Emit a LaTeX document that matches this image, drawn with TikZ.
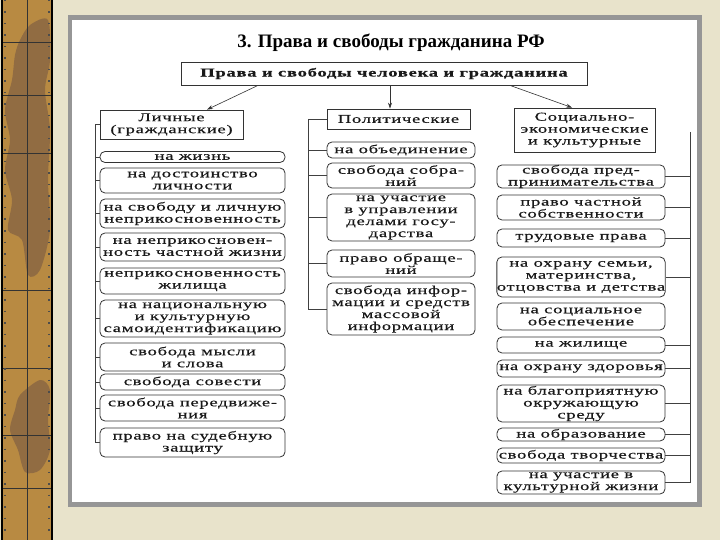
\documentclass[tikz,border=0pt]{standalone}
\usepackage{fontspec}
\setmainfont{Liberation Serif}
\newfontfamily\boxfont[FakeStretch=1.55,LetterSpace=6,FakeBold=0.4]{Liberation Serif}
\definecolor{Parchment}{RGB}{232, 227, 203}
\definecolor{StripBrown}{RGB}{184, 138, 66}
\definecolor{LeafBrown}{RGB}{120, 88, 66}
\definecolor{FrameGray}{RGB}{150, 150, 150}
\usetikzlibrary{arrows.meta, calc}

\begin{document}
\begin{tikzpicture}[x=1pt, y=-1pt,
    every node/.style={align=center, inner sep=0pt},
    boxtext/.style={font=\boxfont\fontsize{12}{12}\selectfont, text=black!90},
    headbox/.style={boxtext, draw=black!80, line width=0.8pt},
    itembox/.style={boxtext, draw=black!80, line width=0.8pt, rounded corners=5pt},
    lbox/.style={itembox, minimum width=185pt},
    mbox/.style={itembox, minimum width=148pt},
    rbox/.style={itembox, minimum width=168pt},
    spine/.style={draw=black!75, line width=0.7pt},
    arr/.style={-{Stealth[length=6pt, width=4pt]}, draw=black!80, line width=0.6pt}
]
\useasboundingbox (0,0) rectangle (720,540);
\fill[Parchment] (0,0) rectangle (720,540);

\fill[StripBrown] (2,0) rectangle (52,540);
\fill[LeafBrown, opacity=0.6] plot[smooth cycle] coordinates {(30,25) (48,20) (50,60) (45,90) (50,130) (48,180) (50,230) (40,270) (28,275) (22,240) (8,230) (12,200) (5,170) (10,140) (5,110) (12,80) (15,55) (20,40)};
\fill[LeafBrown, opacity=0.6] plot[smooth cycle] coordinates {(40,380) (50,390) (48,420) (50,450) (40,470) (25,472) (18,450) (10,430) (15,410) (20,395)};
\draw[black!80, line width=0.6pt] (27,0) -- (27,540);
\foreach \y in {42,95,153,290,368,435,488}
  \draw[black!80, line width=0.6pt] (2,\y) -- (52,\y);
\draw[black!70, line width=1.5pt, dash pattern=on 1.5pt off 10pt] (5,0) -- (5,540) (49,0) -- (49,540);
\draw[black, line width=2pt] (2,-1) rectangle (52,541);

\fill[FrameGray] (68,15) rectangle (702,507);
\fill[white] (72,20) rectangle (697,502);

\node[font=\bfseries\fontsize{19}{22}\selectfont] (title) at (391,43) {3. Права и свободы гражданина РФ};

\node[headbox, font=\boxfont\bfseries\fontsize{12}{12}\selectfont, minimum width=406pt, minimum height=23pt] (top) at (384,73.5) {Права и свободы человека и гражданина};

\node[headbox, minimum width=143pt, minimum height=29pt] (lhead) at (171.5,124.5) {Личные\\(гражданские)};
\node[lbox, minimum height=11pt] (l1) at (192.5,157) {на жизнь};
\node[lbox, minimum height=25pt] (l2) at (192.5,180.5) {на достоинство\\личности};
\node[lbox, minimum height=29pt] (l3) at (192.5,213.5) {на свободу и личную\\неприкосновенность};
\node[lbox, minimum height=28pt] (l4) at (192.5,247) {на неприкосновен-\\ность частной жизни};
\node[lbox, minimum height=26pt] (l5) at (192.5,281) {неприкосновенность\\жилища};
\node[lbox, minimum height=37pt] (l6) at (192.5,318.5) {на национальную\\и культурную\\самоидентификацию};
\node[lbox, minimum height=28pt] (l7) at (192.5,357) {свобода мысли\\и слова};
\node[lbox, minimum height=16pt] (l8) at (192.5,382) {свобода совести};
\node[lbox, minimum height=26pt] (l9) at (192.5,408) {свобода передвиже-\\ния};
\node[lbox, minimum height=29pt] (l10) at (192.5,442.5) {право на судебную\\защиту};

\node[headbox, minimum width=143pt, minimum height=20pt] (mhead) at (398.5,119) {Политические};
\node[mbox, minimum height=16pt] (m1) at (401,150) {на объединение};
\node[mbox, minimum height=25pt] (m2) at (401,175.5) {свобода собра-\\ний};
\node[mbox, minimum height=47pt] (m3) at (401,217.5) {на участие\\в управлении\\делами госу-\\дарства};
\node[mbox, minimum height=27pt] (m4) at (401,263.5) {право обраще-\\ний};
\node[mbox, minimum height=52pt] (m5) at (401,309) {свобода инфор-\\мации и средств\\массовой\\информации};

\node[headbox, minimum width=141pt, minimum height=44pt] (rhead) at (584.5,130) {Социально-\\экономические\\и культурные};
\node[rbox, minimum height=23pt] (r1) at (581,176.5) {свобода пред-\\принимательства};
\node[rbox, minimum height=25pt] (r2) at (581,207.5) {право частной\\собственности};
\node[rbox, minimum height=18pt] (r3) at (581,238) {трудовые права};
\node[rbox, minimum height=40pt] (r4) at (581,277) {на охрану семьи,\\материнства,\\отцовства и детства};
\node[rbox, minimum height=27pt] (r5) at (581,316.5) {на социальное\\обеспечение};
\node[rbox, minimum height=16pt] (r6) at (581,345) {на жилище};
\node[rbox, minimum height=17pt] (r7) at (581,368.5) {на охрану здоровья};
\node[rbox, minimum height=37pt] (r8) at (581,403.5) {на благоприятную\\окружающую\\среду};
\node[rbox, minimum height=13pt] (r9) at (581,434.5) {на образование};
\node[rbox, minimum height=15pt] (r10) at (581,455.5) {свобода творчества};
\node[rbox, minimum height=23pt] (r11) at (581,482.5) {на участие в\\культурной жизни};

\draw[arr] ([xshift=-126pt]top.south) -- ([xshift=35.5pt]lhead.north);
\draw[arr] ([xshift=6pt]top.south) -- ([xshift=6pt]top.south |- mhead.north);
\draw[arr] ([xshift=126pt]top.south) -- ([xshift=-12.5pt]rhead.north);

\coordinate (lspine) at (95,0);
\coordinate (mspine) at (308,0);
\coordinate (rspine) at (690,132);
\draw[spine] (lhead.west -| lspine) -- (l10.west -| lspine);
\foreach \n in {lhead,l1,l2,l3,l4,l5,l6,l7,l8,l9,l10}
  \draw[spine] (\n.west -| lspine) -- (\n.west);
\draw[spine] (mhead.west -| mspine) -- (m5.west -| mspine);
\foreach \n in {mhead,m1,m2,m3,m4,m5}
  \draw[spine] (\n.west -| mspine) -- (\n.west);
\draw[spine] (rspine) -- (r11.east -| rspine);
\foreach \n in {r1,r2,r3,r4,r6,r7,r8,r9,r10,r11}
  \draw[spine] (\n.east) -- (\n.east -| rspine);
\end{tikzpicture}
\end{document}
